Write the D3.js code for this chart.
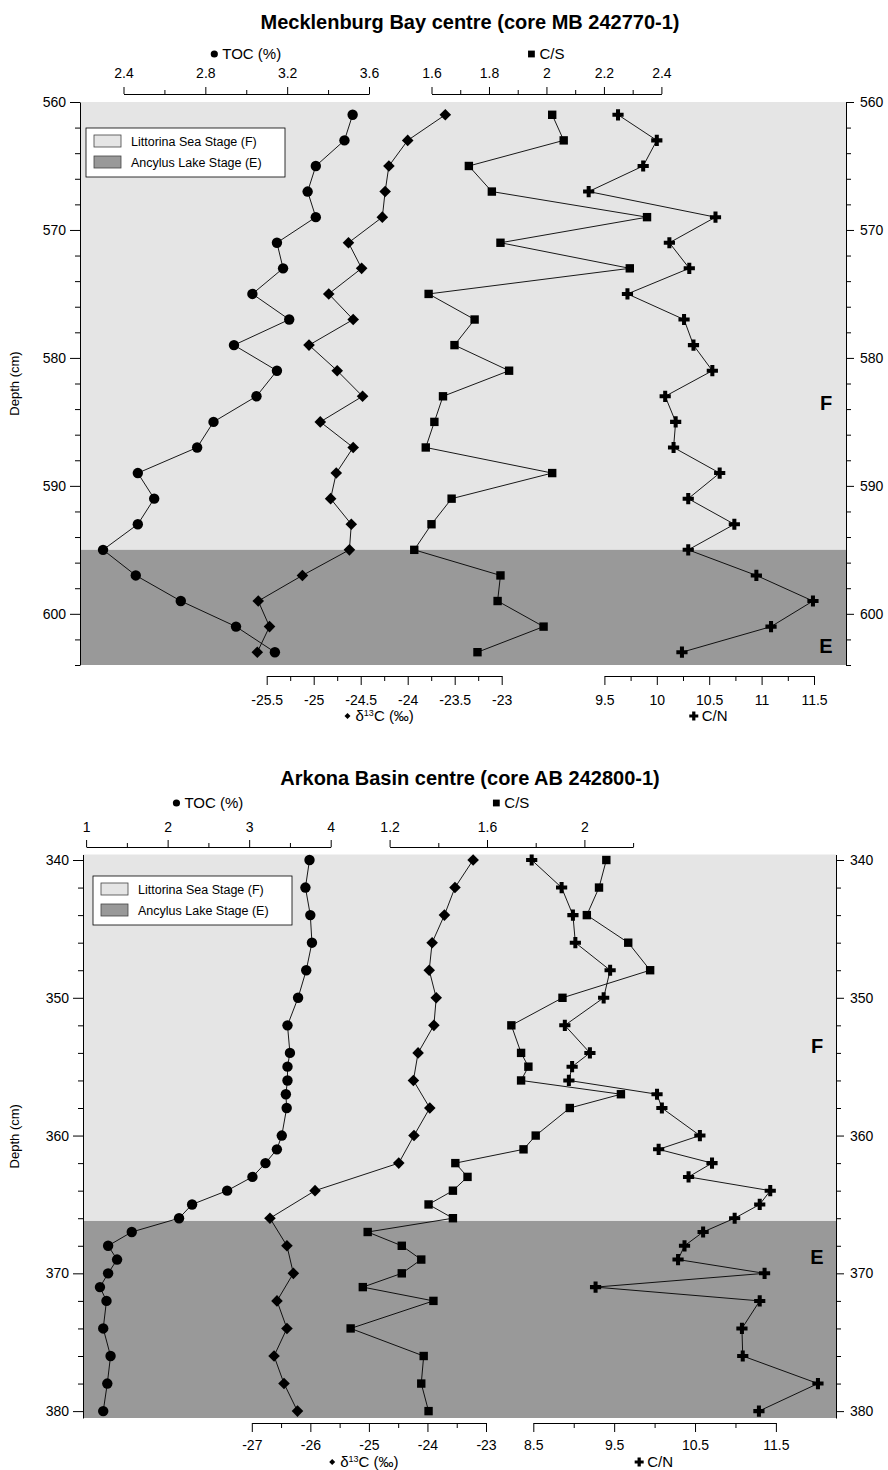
<!DOCTYPE html>
<html>
<head>
<meta charset="utf-8">
<script src="https://cdn.jsdelivr.net/npm/d3@7"></script>
<style>
  body { margin: 0; background: #fff; }
  svg { display: block; }
</style>
</head>
<body>
<div id="chart"></div>
<script>
// ---- Mecklenburg Bay centre (core MB 242770-1) ----
const mbDepth = [561, 563, 565, 567, 569, 571, 573, 575, 577, 579, 581, 583, 585, 587, 589, 591, 593, 595, 597, 599, 601, 603];
const mbToc  = [3.52, 3.48, 3.34, 3.30, 3.34, 3.15, 3.18, 3.03, 3.21, 2.94, 3.15, 3.05, 2.84, 2.76, 2.47, 2.55, 2.47, 2.30, 2.46, 2.68, 2.95, 3.14];
const mbD13c = [-23.60, -24.00, -24.20, -24.24, -24.27, -24.63, -24.49, -24.84, -24.58, -25.05, -24.75, -24.48, -24.93, -24.58, -24.76, -24.82, -24.60, -24.62, -25.12, -25.59, -25.47, -25.60];
const mbCs   = [2.02, 2.06, 1.73, 1.81, 2.35, 1.84, 2.29, 1.59, 1.75, 1.68, 1.87, 1.64, 1.61, 1.58, 2.02, 1.67, 1.60, 1.54, 1.84, 1.83, 1.99, 1.76];
const mbCn   = [9.63, 10.00, 9.87, 9.35, 10.56, 10.12, 10.31, 9.72, 10.26, 10.35, 10.53, 10.08, 10.18, 10.16, 10.60, 10.30, 10.74, 10.30, 10.95, 11.49, 11.09, 10.24];
const mbStageBoundary = 595;

// ---- Arkona Basin centre (core AB 242800-1) ----
const abDepth = [340, 342, 344, 346, 348, 350, 352, 354, 355, 356, 357, 358, 360, 361, 362, 363, 364, 365, 366, 367, 368, 369, 370, 371, 372, 374, 376, 378, 380];
const abToc = [3.74, 3.69, 3.75, 3.77, 3.70, 3.60, 3.47, 3.50, 3.47, 3.47, 3.45, 3.46, 3.40, 3.34, 3.20, 3.04, 2.73, 2.30, 2.14, 1.56, 1.27, 1.38, 1.27, 1.17, 1.25, 1.21, 1.30, 1.26, 1.21];
const abCs  = [2.09, 2.06, 2.01, 2.18, 2.27, 1.91, 1.70, 1.74, 1.77, 1.74, 2.15, 1.94, 1.80, 1.75, 1.47, 1.52, 1.46, 1.36, 1.46, 1.11, 1.25, 1.33, 1.25, 1.09, 1.38, 1.04, 1.34, 1.33, 1.36];
const abCn  = [8.48, 8.85, 8.99, 9.02, 9.45, 9.37, 8.89, 9.20, 8.98, 8.94, 10.03, 10.09, 10.56, 10.05, 10.71, 10.42, 11.43, 11.30, 10.99, 10.60, 10.37, 10.29, 11.36, 9.27, 11.30, 11.08, 11.09, 12.02, 11.29];
const abD13cDepth = [340, 342, 344, 346, 348, 350, 352, 354, 356, 358, 360, 362, 364, 366, 368, 370, 372, 374, 376, 378, 380];
const abD13c = [-23.22, -23.53, -23.71, -23.92, -23.97, -23.85, -23.89, -24.16, -24.24, -23.96, -24.23, -24.49, -25.92, -26.69, -26.40, -26.29, -26.57, -26.40, -26.62, -26.45, -26.22];
const abStageBoundary = 366.2;

const legendLabels = ["Littorina Sea Stage (F)", "Ancylus Lake Stage (E)"];

const FONT = '"Liberation Sans", Arial, Helvetica, sans-serif';
const LIGHT = "#e5e5e5", DARK = "#999999";

const svg = d3.select("#chart").append("svg")
  .attr("width", 888).attr("height", 1470)
  .style("font-family", FONT);

// marker shapes
const shapes = {
  circle: h => d3.symbol(d3.symbolCircle, Math.PI * h * h)(),
  diamond: h => `M0,${-h}L${h},0L0,${h}L${-h},0Z`,
  square: h => `M${-h},${-h}H${h}V${h}H${-h}Z`,
  plus: h => { const t = h * 0.36; return `M${-t},${-h}H${t}V${-t}H${h}V${t}H${t}V${h}H${-t}V${t}H${-h}V${-t}H${-t}Z`; }
};

function tickAxis(g, dir, scale, start, stop, step, majorStep, major, minor, pad) {
  const n = Math.round((stop - start) / step);
  const vals = d3.range(n + 1).map(i => +(start + i * step).toFixed(4));
  const isMajor = d => { const r = (d - start) / majorStep; return Math.abs(r - Math.round(r)) < 1e-6; };
  const fn = { top: d3.axisTop, bottom: d3.axisBottom, left: d3.axisLeft, right: d3.axisRight }[dir];
  g.call(fn(scale).tickValues(vals).tickSize(major).tickSizeOuter(0).tickPadding(pad)
      .tickFormat(d => isMajor(d) ? String(d) : ""))
    .attr("font-family", FONT).attr("font-size", 14);
  g.select(".domain").attr("stroke", "#000");
  g.selectAll(".tick line").attr("stroke", "#000");
  g.selectAll(".tick text").attr("fill", "#000");
  g.selectAll(".tick line").filter(d => !isMajor(d)).each(function () {
    const l = d3.select(this);
    if (dir === "top") l.attr("y2", -minor);
    if (dir === "bottom") l.attr("y2", minor);
    if (dir === "left") l.attr("x2", -minor);
    if (dir === "right") l.attr("x2", minor);
  });
}

// axis title with a small marker before the text
function axisTitle(cx, y, shape, size, build) {
  const g = svg.append("g");
  const t = g.append("text").attr("y", y).attr("font-size", 15);
  build(t);
  const w = t.node().getComputedTextLength();
  const x0 = cx - (w + 11) / 2;
  t.attr("x", x0 + 11);
  g.append("path").attr("d", shapes[shape](size))
    .attr("transform", `translate(${x0 + 3},${y - 5})`).attr("fill", "#000");
}

function drawSeries(g, depth, vals, x, y, shape, size) {
  const pts = depth.map((d, i) => [x(vals[i]), y(d)]);
  g.append("path").attr("d", d3.line()(pts))
    .attr("fill", "none").attr("stroke", "#000").attr("stroke-width", 0.9);
  g.selectAll(null).data(pts).join("path")
    .attr("d", shapes[shape](size))
    .attr("transform", p => `translate(${p[0]},${p[1]})`)
    .attr("fill", "#000");
}

function drawPanel(p) {
  const y = d3.scaleLinear().domain(p.depthDomain).range(p.yRange);
  const [top, bot] = p.yRange;

  svg.append("rect").attr("x", p.x0).attr("width", p.x1 - p.x0)
    .attr("y", top).attr("height", y(p.boundary) - top).attr("fill", LIGHT);
  svg.append("rect").attr("x", p.x0).attr("width", p.x1 - p.x0)
    .attr("y", y(p.boundary)).attr("height", bot - y(p.boundary)).attr("fill", DARK);

  // title
  svg.append("text").attr("x", p.titleX).attr("y", p.titleY)
    .attr("text-anchor", "middle").attr("font-size", 20).attr("font-weight", "bold")
    .text(p.title);

  // depth axes
  tickAxis(svg.append("g").attr("transform", `translate(${p.x0},0)`), "left", y,
    p.depthTicks[0], p.depthTicks[1], 2, 10, 10, 5, 4);
  tickAxis(svg.append("g").attr("transform", `translate(${p.x1},0)`), "right", y,
    p.depthTicks[0], p.depthTicks[1], 2, 10, 8, 5, 6);
  svg.append("text").attr("transform", `translate(19,${(top + bot) / 2}) rotate(-90)`)
    .attr("text-anchor", "middle").attr("font-size", 13).text("Depth (cm)");

  // property scales
  const xToc = d3.scaleLinear().domain(p.toc.domain).range(p.toc.range);
  const xCs = d3.scaleLinear().domain(p.cs.domain).range(p.cs.range);
  const xD = d3.scaleLinear().domain(p.d13c.domain).range(p.d13c.range);
  const xCn = d3.scaleLinear().domain(p.cn.domain).range(p.cn.range);

  const gt = svg.append("g").attr("transform", `translate(0,${p.topAxisY})`);
  tickAxis(gt.append("g"), "top", xToc, p.toc.domain[0], p.toc.domain[1], p.toc.step, p.toc.major, 7, 4, p.topPad);
  tickAxis(gt.append("g"), "top", xCs, p.cs.domain[0], p.cs.domain[1], p.cs.step, p.cs.major, 7, 4, p.topPad);
  const gb = svg.append("g").attr("transform", `translate(0,${p.botAxisY})`);
  tickAxis(gb.append("g"), "bottom", xD, p.d13c.domain[0], p.d13c.domain[1], p.d13c.step, p.d13c.major, 9, 5, p.botPad);
  tickAxis(gb.append("g"), "bottom", xCn, p.cn.domain[0], p.cn.domain[1], p.cn.step, p.cn.major, 9, 5, p.botPad);

  axisTitle(d3.mean(p.toc.range), p.topTitleY, "circle", 3.6, t => t.text("TOC (%)"));
  axisTitle(d3.mean(p.cs.range), p.topTitleY, "square", 3.4, t => t.text("C/S"));
  axisTitle(d3.mean(p.d13c.range) - 5, p.botTitleY, "diamond", 3, t => {
    t.append("tspan").text("δ");
    t.append("tspan").attr("font-size", 9).attr("dy", -5).text("13");
    t.append("tspan").attr("dy", 5).text("C (‰)");
  });
  axisTitle(d3.mean(p.cn.range), p.botTitleY, "plus", 4.5, t => t.text("C/N"));

  // data
  const gd = svg.append("g");
  drawSeries(gd, p.tocDepth, p.tocVals, xToc, y, "circle", 5.2);
  drawSeries(gd, p.d13cDepth, p.d13cVals, xD, y, "diamond", 5.8);
  drawSeries(gd, p.csDepth, p.csVals, xCs, y, "square", 4.2);
  drawSeries(gd, p.cnDepth, p.cnVals, xCn, y, "plus", 5.6);

  // stage letters
  svg.append("text").attr("x", p.letterX).attr("y", y(p.fDepth)).attr("dy", "0.35em")
    .attr("text-anchor", "middle").attr("font-size", 20).attr("font-weight", "bold").text("F");
  svg.append("text").attr("x", p.letterX).attr("y", y(p.eDepth)).attr("dy", "0.35em")
    .attr("text-anchor", "middle").attr("font-size", 20).attr("font-weight", "bold").text("E");

  // legend
  const lg = svg.append("g").attr("transform", `translate(${p.legend[0]},${p.legend[1]})`);
  lg.append("rect").attr("width", 199).attr("height", 49).attr("fill", "#fff")
    .attr("stroke", "#000").attr("stroke-width", 0.8);
  [LIGHT, DARK].forEach((c, i) => {
    lg.append("rect").attr("x", 8).attr("y", 7 + i * 21).attr("width", 27).attr("height", 12)
      .attr("fill", c).attr("stroke", "#444").attr("stroke-width", 0.8);
    lg.append("text").attr("x", 45).attr("y", 18 + i * 21).attr("font-size", 12.5)
      .text(legendLabels[i]);
  });
}

drawPanel({
  title: "Mecklenburg Bay centre (core MB 242770-1)", titleX: 470, titleY: 29,
  x0: 80, x1: 846, depthDomain: [560, 604], yRange: [102, 665], depthTicks: [560, 604],
  boundary: mbStageBoundary,
  topAxisY: 94, topPad: 9, topTitleY: 59, botAxisY: 676, botPad: 10, botTitleY: 721,
  toc: { domain: [2.4, 3.6], range: [123.5, 369], step: 0.2, major: 0.4 },
  cs: { domain: [1.6, 2.4], range: [431.5, 661.4], step: 0.1, major: 0.2 },
  d13c: { domain: [-25.5, -23], range: [266.7, 501.7], step: 0.25, major: 0.5 },
  cn: { domain: [9.5, 11.5], range: [604.4, 814], step: 0.25, major: 0.5 },
  tocDepth: mbDepth, tocVals: mbToc, d13cDepth: mbDepth, d13cVals: mbD13c,
  csDepth: mbDepth, csVals: mbCs, cnDepth: mbDepth, cnVals: mbCn,
  letterX: 826, fDepth: 583.5, eDepth: 602.5, legend: [86, 128]
});

drawPanel({
  title: "Arkona Basin centre (core AB 242800-1)", titleX: 470, titleY: 785,
  x0: 83, x1: 836, depthDomain: [339.6, 380.5], yRange: [854.5, 1418], depthTicks: [340, 380],
  boundary: abStageBoundary,
  topAxisY: 847, topPad: 8, topTitleY: 808, botAxisY: 1423, botPad: 8, botTitleY: 1467,
  toc: { domain: [1, 4], range: [86.1, 330.7], step: 0.5, major: 1 },
  cs: { domain: [1.2, 2.2], range: [389.6, 633.1], step: 0.2, major: 0.4 },
  d13c: { domain: [-27, -23], range: [251.8, 486], step: 0.5, major: 1 },
  cn: { domain: [8.5, 11.5], range: [533.3, 775.9], step: 0.5, major: 1 },
  tocDepth: abDepth, tocVals: abToc, d13cDepth: abD13cDepth, d13cVals: abD13c,
  csDepth: abDepth, csVals: abCs, cnDepth: abDepth, cnVals: abCn,
  letterX: 817, fDepth: 353.5, eDepth: 368.8, legend: [93, 876]
});
</script>
</body>
</html>
